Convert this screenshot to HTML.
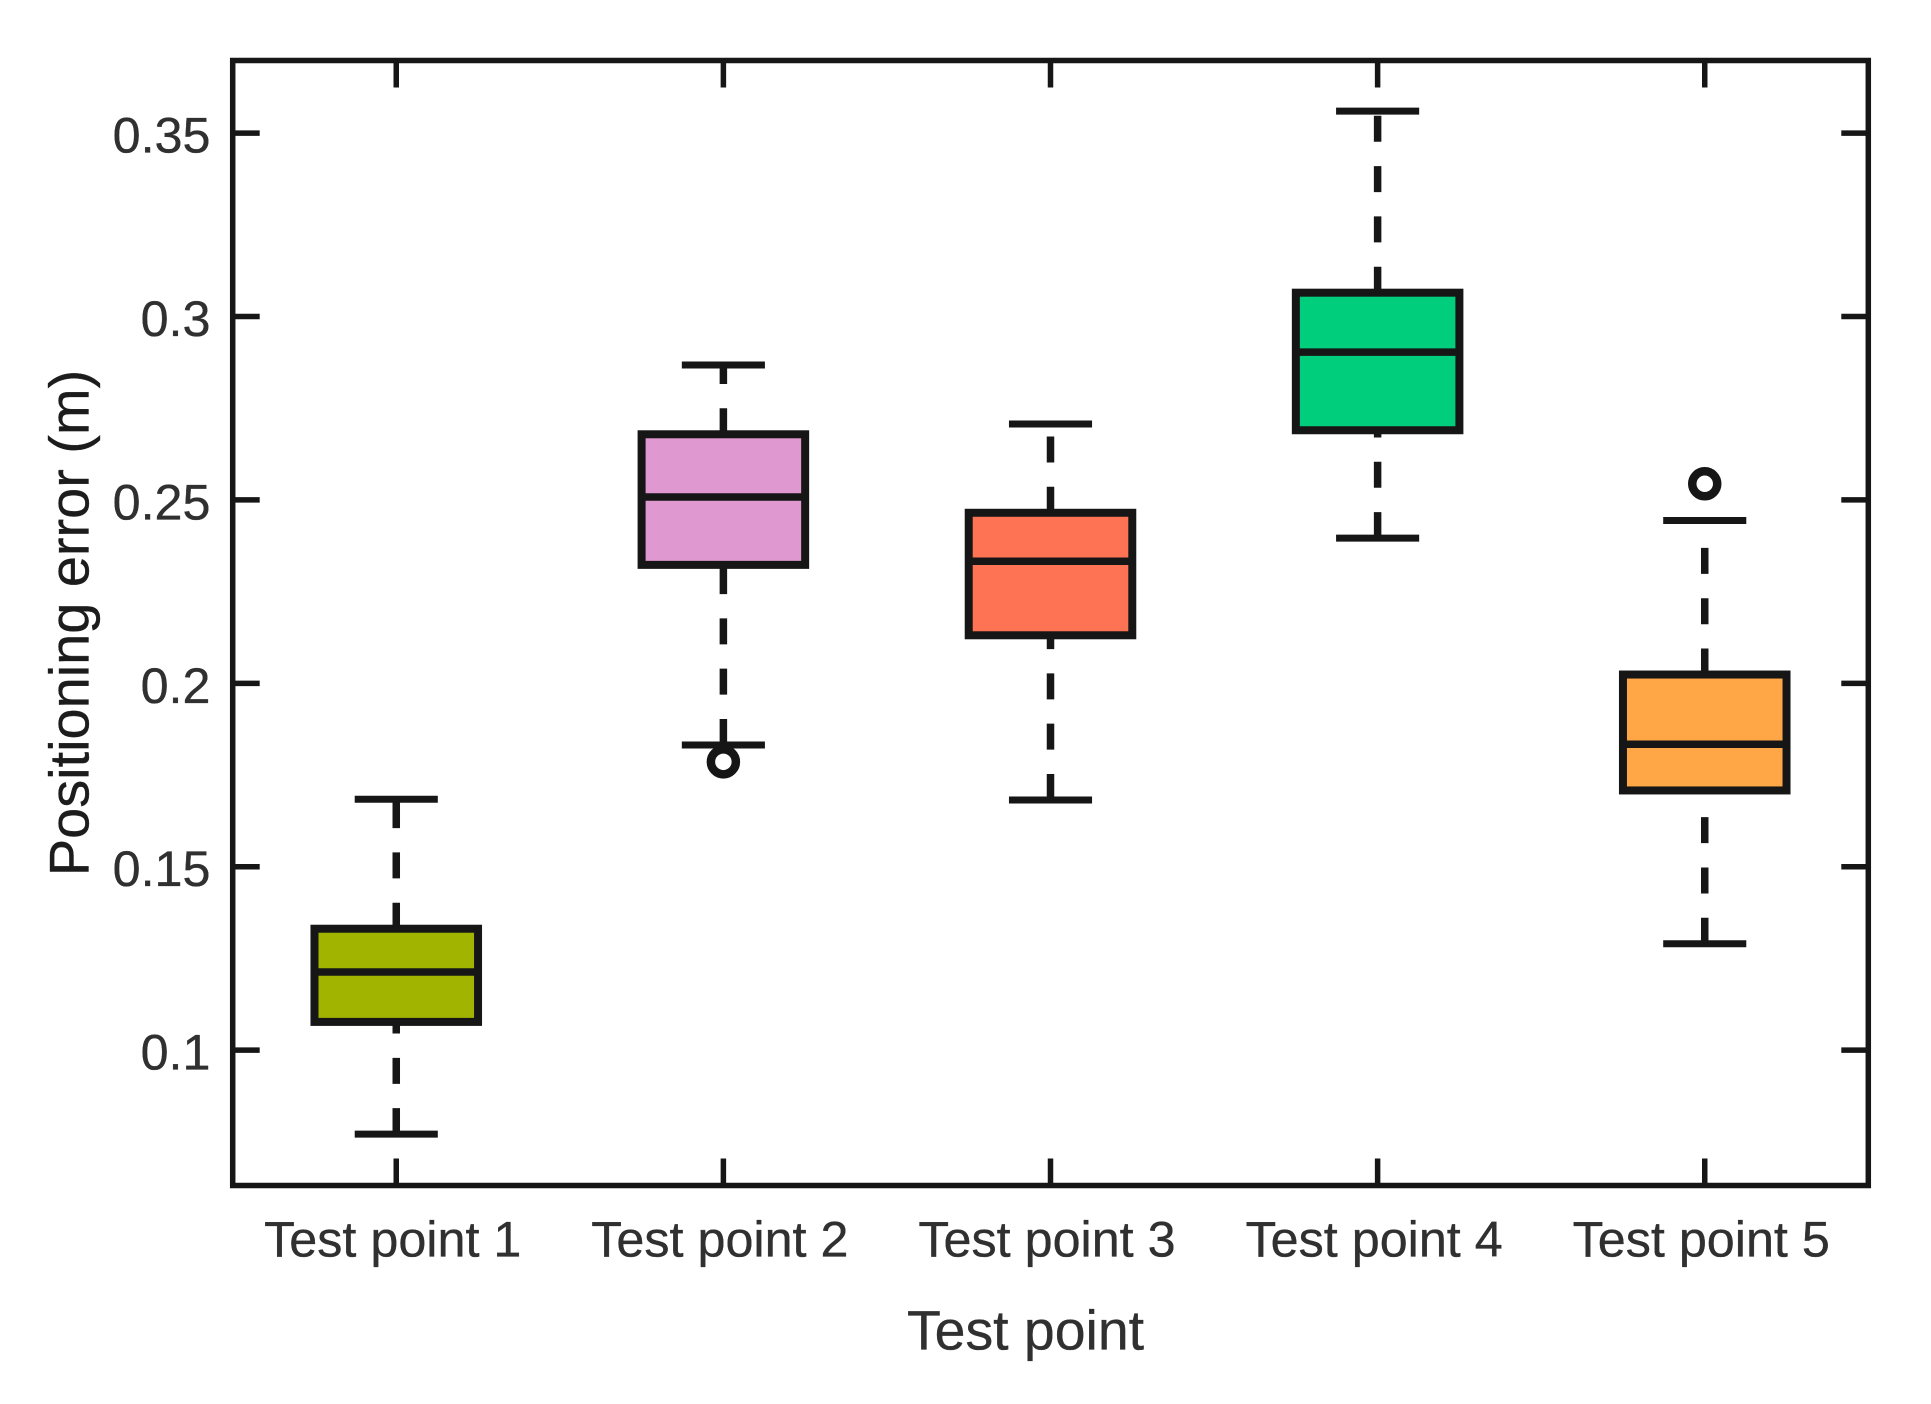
<!DOCTYPE html>
<html lang="en">
<head>
<meta charset="utf-8">
<title>Positioning error by test point</title>
<style>
html,body{margin:0;padding:0;background:#fff;}
svg{display:block;}
text{font-family:"Liberation Sans",Arial,sans-serif;stroke-width:0.35;paint-order:stroke;}
</style>
</head>
<body>
<svg id="chart" xmlns="http://www.w3.org/2000/svg" width="1931" height="1404" viewBox="0 0 1931 1404"></svg>
<script>
const categories = ["Test point 1", "Test point 2", "Test point 3", "Test point 4", "Test point 5"];
const whiskerLow = [0.0771, 0.1832, 0.1682, 0.2396, 0.1290];
const q1 = [0.1077, 0.2323, 0.2131, 0.2690, 0.1708];
const median = [0.1213, 0.2508, 0.2333, 0.2903, 0.1834];
const q3 = [0.1331, 0.2679, 0.2465, 0.3065, 0.2024];
const whiskerHigh = [0.1684, 0.2868, 0.2707, 0.3560, 0.2444];
const outliers = [[], [0.1786], [], [], [0.2544]];
const fills = ["#A0B400", "#E099D0", "#FF7355", "#00CE7D", "#FFA747"];
const yTickValues = [0.1, 0.15, 0.2, 0.25, 0.3, 0.35];
const yTickLabels = ["0.1", "0.15", "0.2", "0.25", "0.3", "0.35"];
const xAxisTitle = "Test point";
const yAxisTitle = "Positioning error (m)";

const INK = "#161616";
const TEXT = "#303030";
const plot = {left: 232.7, right: 1868.3, top: 60.5, bottom: 1185.5};
const yDomain = [0.0631, 0.3698];
const xDomain = [0.5, 5.5];
const NS = "http://www.w3.org/2000/svg";
const svg = document.getElementById("chart");

function xScale(v) {
  return plot.left + (v - xDomain[0]) / (xDomain[1] - xDomain[0]) * (plot.right - plot.left);
}
function yScale(v) {
  return plot.bottom - (v - yDomain[0]) / (yDomain[1] - yDomain[0]) * (plot.bottom - plot.top);
}
function makeLine(x1, y1, x2, y2, width, dash) {
  const el = document.createElementNS(NS, "line");
  el.setAttribute("x1", x1);
  el.setAttribute("y1", y1);
  el.setAttribute("x2", x2);
  el.setAttribute("y2", y2);
  el.setAttribute("stroke", INK);
  el.setAttribute("stroke-width", width);
  if (dash) el.setAttribute("stroke-dasharray", dash);
  svg.appendChild(el);
  return el;
}
function makeText(str, x, y, size, anchor, fill) {
  const el = document.createElementNS(NS, "text");
  el.textContent = str;
  el.setAttribute("x", x);
  el.setAttribute("y", y);
  el.setAttribute("font-size", size);
  el.setAttribute("text-anchor", anchor);
  el.setAttribute("fill", fill);
  el.setAttribute("stroke", fill);
  svg.appendChild(el);
  return el;
}

const TICK = 27;
yTickValues.forEach(function (v, i) {
  const y = yScale(v);
  const l = makeLine(plot.left, y, plot.left + TICK, y, 5.5);
  
  
  const r = makeLine(plot.right, y, plot.right - TICK, y, 5.5);
  
  
  const t = makeText(yTickLabels[i], 210.5, y + 19.5, 50.3, "end", TEXT);
  
  
});

categories.forEach(function (name, i) {
  const pos = i + 1;
  const x = xScale(pos);
  const tb = makeLine(x, plot.bottom, x, plot.bottom - TICK, 5.5);
  
  
  const tt = makeLine(x, plot.top, x, plot.top + TICK, 5.5);
  
  
  const lab = makeText(name, x - 3.5, 1256.7, 50.3, "middle", TEXT);
  
  

  const dash = "26 24.3";
  const wl = makeLine(x, yScale(whiskerLow[i]), x, yScale(q1[i]), 7.5, dash);
  
  
  const wh = makeLine(x, yScale(q3[i]), x, yScale(whiskerHigh[i]), 7.5, dash);
  
  
  const capHalf = xScale(pos + 0.127) - x;
  const cl = makeLine(x - capHalf, yScale(whiskerLow[i]), x + capHalf, yScale(whiskerLow[i]), 7);
  
  
  const ch = makeLine(x - capHalf, yScale(whiskerHigh[i]), x + capHalf, yScale(whiskerHigh[i]), 7);
  
  

  const boxHalf = xScale(pos + 0.25) - x;
  const box = document.createElementNS(NS, "rect");
  
  
  box.setAttribute("x", x - boxHalf);
  box.setAttribute("y", yScale(q3[i]));
  box.setAttribute("width", boxHalf * 2);
  box.setAttribute("height", yScale(q1[i]) - yScale(q3[i]));
  box.setAttribute("fill", fills[i]);
  box.setAttribute("stroke", INK);
  box.setAttribute("stroke-width", 8);
  svg.appendChild(box);
  const med = makeLine(x - boxHalf, yScale(median[i]), x + boxHalf, yScale(median[i]), 7.5);
  
  

  outliers[i].forEach(function (o) {
    const c = document.createElementNS(NS, "circle");
    
    
    c.setAttribute("cx", x);
    c.setAttribute("cy", yScale(o));
    c.setAttribute("r", 12.5);
    c.setAttribute("fill", "#fff");
    c.setAttribute("stroke", INK);
    c.setAttribute("stroke-width", 8.5);
    svg.appendChild(c);
  });
});

const frame = document.createElementNS(NS, "rect");


frame.setAttribute("x", plot.left);
frame.setAttribute("y", plot.top);
frame.setAttribute("width", plot.right - plot.left);
frame.setAttribute("height", plot.bottom - plot.top);
frame.setAttribute("fill", "none");
frame.setAttribute("stroke", INK);
frame.setAttribute("stroke-width", 5.5);
svg.appendChild(frame);

const xTitle = makeText(xAxisTitle, 1025.5, 1349.3, 55.4, "middle", TEXT);



const yTitle = makeText(yAxisTitle, 0, 0, 55.9, "middle", "#1c1c1c");
yTitle.setAttribute("transform", "translate(88.3 623) rotate(-90)");


</script>
</body>
</html>
